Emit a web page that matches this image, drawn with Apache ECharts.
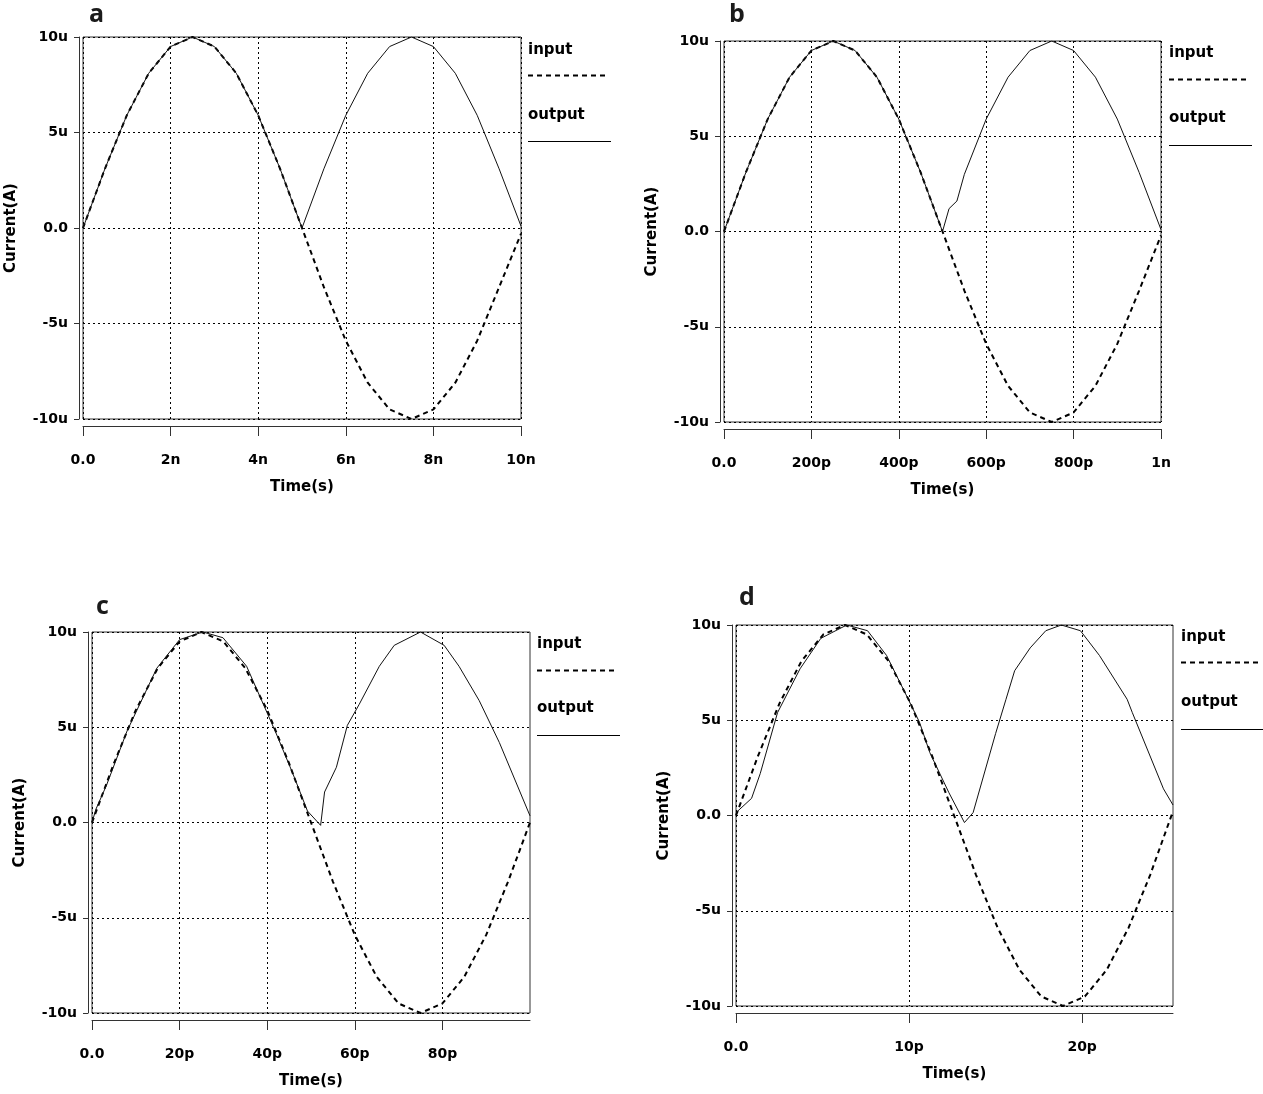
<!DOCTYPE html>
<html><head><meta charset="utf-8">
<script src="https://cdn.jsdelivr.net/npm/echarts@6/dist/echarts.min.js"></script>
<style>html,body{margin:0;padding:0;background:#fff}#chart{width:1263px;height:1094px}</style>
</head><body><div id="chart"></div>
<script>
// ---------- data (time in n / p units, current in u) ----------
const yTickLabels = ['-10u','-5u','0.0','5u','10u'];
const yTickValues = [-10,-5,0,5,10];

// panel a (time in ns)
const aTime   = [0,0.5,1,1.5,2,2.5,3,3.5,4,4.5,5,5.5,6,6.5,7,7.5,8,8.5,9,9.5,10];
const aInput  = [0,3.1,5.9,8.1,9.5,10,9.5,8.1,5.9,3.1,0,-3.1,-5.9,-8.1,-9.5,-10,-9.5,-8.1,-5.9,-3.1,-0.3];
const aOutput = [0,3.1,5.9,8.1,9.5,10,9.5,8.1,5.9,3.1,0,3.1,5.9,8.1,9.5,10,9.5,8.1,5.9,3.1,0.1];
const aTicks  = [0,2,4,6,8,10];
const aTickLabels = ['0.0','2n','4n','6n','8n','10n'];

// panel b (time in ps)
const bTime   = [0,50,100,150,200,250,300,350,400,450,500,550,600,650,700,750,800,850,900,950,1000];
const bInput  = [0,3.1,5.9,8.1,9.5,10,9.5,8.1,5.9,3.1,0,-3.1,-5.9,-8.1,-9.5,-10,-9.5,-8.1,-5.9,-3.1,-0.2];
const bOutTime = [0,50,100,150,200,250,300,350,400,450,500,515,533,550,600,650,700,750,800,850,900,950,1000];
const bOutput  = [0,3.1,5.9,8.1,9.5,10,9.5,8.1,5.9,3.1,0,1.2,1.6,3.0,5.9,8.1,9.5,10,9.5,8.1,5.9,3.1,0.1];
const bTicks  = [0,200,400,600,800,1000];
const bTickLabels = ['0.0','200p','400p','600p','800p','1n'];

// panel c (time in ps)
const cTime   = [0,5,10,15,20,25,30,35,40,45,50,55,60,65,70,75,80,85,90,95,100];
const cInput  = [0,3.1,5.9,8.1,9.5,10,9.5,8.1,5.9,3.1,0,-3.1,-5.9,-8.1,-9.5,-10,-9.5,-8.1,-5.9,-3.1,0];
const cOutTime = [0,0.9,3.3,8,14.8,20,25.3,29.9,35.3,39.9,42,45.8,49.2,52.2,53.1,55.8,58.3,61,65.6,69,75,80.4,83.8,88.4,93,100];
const cOutput  = [0,0.7,1.95,4.8,8.1,9.6,10,9.7,8.2,5.8,4.7,2.6,0.6,-0.15,1.6,2.9,5.1,6.2,8.2,9.3,10,9.3,8.2,6.4,4.2,0.35];
const cTicks  = [0,20,40,60,80];
const cTickLabels = ['0.0','20p','40p','60p','80p'];

// panel d (time in ps)
const dTime   = [0,1.26,2.52,3.78,5.04,6.3,7.56,8.82,10.08,11.34,12.6,13.86,15.12,16.38,17.64,18.9,20.16,21.42,22.68,23.94,25.2];
const dInput  = [0,3.1,5.9,8.1,9.5,10,9.5,8.1,5.9,3.1,0,-3.1,-5.9,-8.1,-9.5,-10,-9.5,-8.1,-5.9,-3.1,0.1];
const dOutTime = [0,0.9,1.4,2.4,3.7,4.9,6.4,7.6,8.7,9.9,10.6,11.2,12.3,13.2,13.7,15.0,15.6,16.1,17.0,17.9,18.8,19.9,21.0,22.6,22.9,24.7,25.25];
const dOutput  = [0.15,0.9,2.2,5.4,7.7,9.3,10,9.7,8.4,6.2,4.9,3.3,1.2,-0.37,0.15,4.3,6.1,7.6,8.8,9.7,10,9.7,8.4,6.1,5.4,1.4,0.55];
const dTicks  = [0,10,20];
const dTickLabels = ['0.0','10p','20p'];

const panelNames = ['a','b','c','d'];
const legendNames = ['input','output'];

// ---------- layout ----------
const FONT = '"DejaVu Sans", Verdana, sans-serif';
const panels = [
  {box:[83,37,438,382],  max:10,   interval:2,  ticks:aTicks, labels:aTickLabels,
   inT:aTime, inV:aInput, outT:aTime, outV:aOutput, title:[97,15], leg:[528,50,75,115,141]},
  {box:[724,41,437,381], max:1000, interval:200, ticks:bTicks, labels:bTickLabels,
   inT:bTime, inV:bInput, outT:bOutTime, outV:bOutput, title:[737,15], leg:[1169,53,79,118,145]},
  {box:[92,632,438,381], max:100,  interval:20, ticks:cTicks, labels:cTickLabels,
   inT:cTime, inV:cInput, outT:cOutTime, outV:cOutput, title:[104,607], leg:[537,644,670,708,735]},
  {box:[736,625,437,381],max:25.25,interval:10, ticks:dTicks, labels:dTickLabels,
   inT:dTime, inV:dInput, outT:dOutTime, outV:dOutput, title:[747,598], leg:[1181,637,662,702,729]}
];

const zip = (t, v) => t.map((x, i) => [x, v[i]]);
const grid = [], xAxis = [], yAxis = [], series = [], graphic = [];
const axisColor = '#333';
const dotted = {color:'#000', width:1, type:[2,3]};

panels.forEach((p, i) => {
  const [l, t, w, h] = p.box;
  grid.push({left:l, top:t, width:w, height:h, show:true, borderColor:axisColor, borderWidth:1,
             backgroundColor:'transparent', containLabel:false, outerBoundsMode:'none'});
  const lbl = {};
  p.ticks.forEach((v, k) => lbl[v] = p.labels[k]);
  xAxis.push({
    type:'value', gridIndex:i, min:0, max:p.max, interval:p.interval, offset:7,
    axisLine:{show:true, onZero:false, lineStyle:{color:axisColor, width:1}},
    axisTick:{show:true, length:10, inside:false, customValues:p.ticks, lineStyle:{color:axisColor}},
    axisLabel:{show:true, margin:27, customValues:p.ticks, showMinLabel:true, showMaxLabel:true,
      formatter:v => (lbl[v] !== undefined ? lbl[v] : ''),
      color:'#000', fontFamily:FONT, fontWeight:'bold', fontSize:14},
    splitLine:{show:true, lineStyle:dotted},
    name:'Time(s)', nameLocation:'middle', nameGap:54,
    nameTextStyle:{color:'#000', fontFamily:FONT, fontWeight:'bold', fontSize:15}
  });
  yAxis.push({
    type:'value', gridIndex:i, min:-10, max:10, interval:5, offset:4,
    axisLine:{show:true, onZero:false, lineStyle:{color:axisColor, width:1}},
    axisTick:{show:true, length:5, inside:false, lineStyle:{color:axisColor}},
    axisLabel:{show:true, margin:11, showMinLabel:true, showMaxLabel:true,
      formatter:v => yTickLabels[yTickValues.indexOf(v)],
      color:'#000', fontFamily:FONT, fontWeight:'bold', fontSize:14},
    splitLine:{show:true, lineStyle:dotted},
    name:'Current(A)', nameLocation:'middle', nameGap:60,
    nameTextStyle:{color:'#000', fontFamily:FONT, fontWeight:'bold', fontSize:15}
  });
  series.push({
    name:legendNames[0], type:'line', xAxisIndex:i, yAxisIndex:i, data:zip(p.inT, p.inV),
    symbol:'none', smooth:false, animation:false, z:3,
    lineStyle:{color:'#000', width:2, type:[5,4]}
  });
  series.push({
    name:legendNames[1], type:'line', xAxisIndex:i, yAxisIndex:i, data:zip(p.outT, p.outV),
    symbol:'none', smooth:false, animation:false, z:4,
    lineStyle:{color:'#111', width:1, type:'solid'}
  });
  // panel letter
  graphic.push({type:'text', left:p.title[0]-8, top:p.title[1]-13,
    style:{text:panelNames[i], fill:'#1b1b1b', font:'bold 25px "Open Sans", sans-serif'}});
  // legend
  const [lx, y1, y2, y3, y4] = p.leg;
  graphic.push({type:'text', x:lx, y:y1, style:{text:legendNames[0], fill:'#000',
    font:'bold 15px ' + FONT, textVerticalAlign:'middle', textAlign:'left'}});
  graphic.push({type:'line', shape:{x1:lx, y1:y2 + 0.5, x2:lx+79, y2:y2 + 0.5},
    style:{stroke:'#000', lineWidth:2, lineDash:[5,4]}});
  graphic.push({type:'text', x:lx, y:y3, style:{text:legendNames[1], fill:'#000',
    font:'bold 15px ' + FONT, textVerticalAlign:'middle', textAlign:'left'}});
  graphic.push({type:'line', shape:{x1:lx, y1:y4 + 0.5, x2:lx+83, y2:y4 + 0.5},
    style:{stroke:'#000', lineWidth:1}});
});

const chart = echarts.init(document.getElementById('chart'), null, {renderer:'canvas'});
chart.setOption({backgroundColor:'#fff', animation:false, grid, xAxis, yAxis, series, graphic});
</script></body></html>
